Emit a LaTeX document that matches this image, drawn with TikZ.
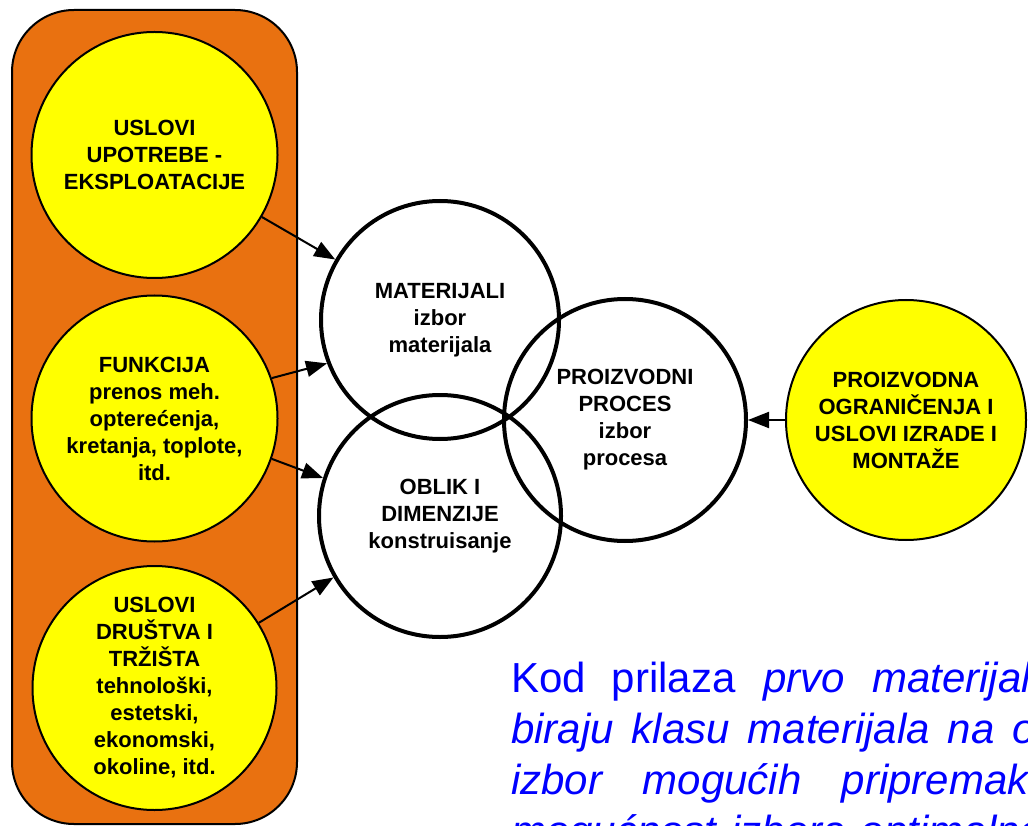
\documentclass[tikz,border=0pt]{standalone}
\usepackage{fontspec}
\setmainfont{Liberation Sans}
\usetikzlibrary{arrows.meta}
\definecolor{panelorange}{RGB}{233,113,16}
\definecolor{circyellow}{RGB}{255,255,0}
\begin{document}
\begin{tikzpicture}[x=1pt,y=-1pt,
  panelbox/.style={draw, line width=2pt, fill=panelorange, rounded corners=62pt,
    minimum width=285pt, minimum height=814pt, inner sep=0pt},
  ycirc/.style={circle, draw, line width=2pt, fill=circyellow, inner sep=0pt, align=center,
    font=\bfseries\fontsize{22}{27}\selectfont},
  wcirc/.style={circle, draw, line width=4pt, inner sep=0pt, align=center,
    font=\bfseries\fontsize{22}{27}\selectfont},
  conn/.style={draw, line width=2pt, -{Triangle[length=21pt,width=16pt]}},
  bluetext/.style={anchor=base west, inner sep=0pt, text=blue,
    font=\fontsize{42}{50}\selectfont}]
\useasboundingbox (0,0) rectangle (1028,826);

\node[panelbox] (panel) at (154.5,417) {};

\node[ycirc, minimum size=246pt] (use) at (154.5,155) {USLOVI\\UPOTREBE -\\EKSPLOATACIJE};
\node[ycirc, minimum size=246pt] (fun) at (154.5,418.5) {FUNKCIJA\\prenos meh.\\opterećenja,\\kretanja, toplote,\\itd.};
\node[ycirc, minimum size=244pt] (dru) at (154.5,688) {USLOVI\\DRUŠTVA I\\TRŽIŠTA\\tehnološki,\\estetski,\\ekonomski,\\okoline, itd.};

\node[wcirc, minimum size=238pt] (mat) at (440,320) {MATERIJALI\\izbor\\materijala};
\node[wcirc, minimum size=242pt] (obl) at (440,516) {OBLIK I\\DIMENZIJE\\konstruisanje};
\node[wcirc, minimum size=242pt] (proc) at (625,420) {PROIZVODNI\\PROCES\\izbor\\procesa};

\node[ycirc, minimum size=240pt] (pn) at (906,420) {PROIZVODNA\\OGRANIČENJA I\\USLOVI IZRADE I\\MONTAŽE};

\draw[conn] (use.-30) -- (mat.150);
\draw[conn] (fun.19) -- (mat.-159);
\draw[conn] (fun.-19) -- (obl.162);
\draw[conn] (dru.32) -- (obl.-150);
\draw[conn] (pn.west) -- (proc.east);

\node[bluetext] (t1) at (511,692) {Kod\hspace{26pt}prilaza\hspace{27.5pt}\textit{prvo\hspace{27.5pt}materijali,}};
\node[bluetext] (t2) at (511,743) {\textit{biraju\hspace{18pt}klasu\hspace{18pt}materijala\hspace{18pt}na\hspace{18pt}osnovu}};
\node[bluetext] (t3) at (511,794) {\textit{izbor\hspace{40.5pt}mogućih\hspace{40.5pt}pripremaka}};
\node[bluetext] (t4) at (511,845) {\textit{mogućnost\hspace{15pt}izbora\hspace{15pt}optimalne}};
\end{tikzpicture}
\end{document}
